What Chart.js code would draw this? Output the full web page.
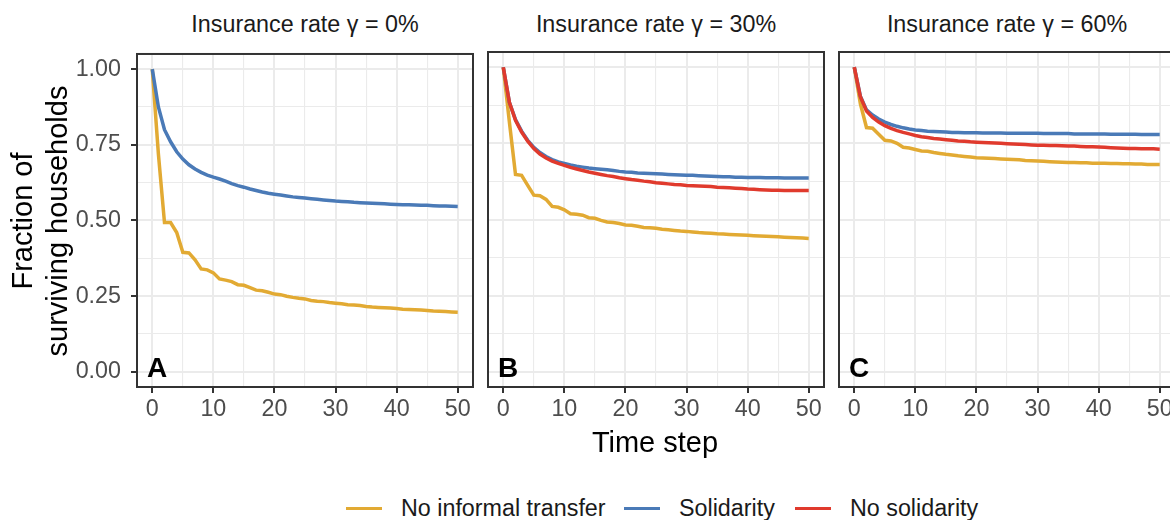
<!DOCTYPE html>
<html lang="en">
<head>
<meta charset="UTF-8">
<title>Fraction of surviving households</title>
<script src="https://cdn.jsdelivr.net/npm/chart.js"></script>
<style>
  body { margin: 0; background: #fff; font-family: "Liberation Sans", Arial, Helvetica, sans-serif; }
  #wrap { position: relative; width: 1170px; height: 520px; overflow: hidden; }
  .panel { position: absolute; top: 30px; height: 400px; }
  .strip { position: absolute; top: 10px; width: 336px; text-align: center; font-size: 23.3px; line-height: 28px; color: #1a1a1a; white-space: nowrap; }
  #ytitle { position: absolute; left: -160px; top: 186px; width: 400px; height: 70px; transform: rotate(-90deg); text-align: center; font-size: 29px; line-height: 35px; color: #000; white-space: nowrap; }
  #xtitle { position: absolute; left: 455px; top: 425px; width: 400px; text-align: center; font-size: 29px; line-height: 35px; color: #000; }
  .key { position: absolute; top: 507px; width: 36px; height: 3px; }
  .ktext { position: absolute; top: 494px; font-size: 23.3px; line-height: 28px; color: #1a1a1a; white-space: nowrap; }
</style>
</head>
<body>
<div id="wrap">
  <div class="strip" style="left:137px">Insurance rate γ = 0%</div>
  <div class="strip" style="left:488px">Insurance rate γ = 30%</div>
  <div class="strip" style="left:839px">Insurance rate γ = 60%</div>

  <canvas id="panelA" class="panel" style="left:0px" width="480" height="400"></canvas>
  <canvas id="panelB" class="panel" style="left:480px" width="352" height="400"></canvas>
  <canvas id="panelC" class="panel" style="left:831px" width="352" height="400"></canvas>

  <div id="ytitle">Fraction of<br>surviving households</div>
  <div id="xtitle">Time step</div>

  <div class="key" style="left:346px;background:#E2AA33"></div>
  <div class="ktext" style="left:401px">No informal transfer</div>
  <div class="key" style="left:624px;background:#4A7AB7"></div>
  <div class="ktext" style="left:679px">Solidarity</div>
  <div class="key" style="left:795px;background:#E03A2D"></div>
  <div class="ktext" style="left:850px">No solidarity</div>
</div>

<script>
// time steps 0..50
const timeSteps = [0, 1, 2, 3, 4, 5, 6, 7, 8, 9, 10, 11, 12, 13, 14, 15, 16, 17, 18, 19, 20,
  21, 22, 23, 24, 25, 26, 27, 28, 29, 30, 31, 32, 33, 34, 35, 36, 37, 38, 39, 40,
  41, 42, 43, 44, 45, 46, 47, 48, 49, 50];

// gamma = 0%
const noTransferA = [1.0, 0.72, 0.493, 0.493, 0.46, 0.395, 0.393, 0.37, 0.34, 0.337, 0.327,
  0.307, 0.303, 0.298, 0.288, 0.286, 0.278, 0.27, 0.268, 0.263, 0.257,
  0.255, 0.25, 0.246, 0.243, 0.241, 0.236, 0.233, 0.232, 0.229, 0.227,
  0.225, 0.222, 0.221, 0.219, 0.216, 0.214, 0.213, 0.212, 0.211, 0.209,
  0.207, 0.206, 0.205, 0.204, 0.203, 0.201, 0.2, 0.199, 0.198, 0.197];
const solidarityA = [1.0, 0.875, 0.80, 0.76, 0.727, 0.703, 0.684, 0.67, 0.659, 0.65, 0.643,
  0.637, 0.63, 0.622, 0.615, 0.61, 0.604, 0.599, 0.594, 0.59, 0.587,
  0.584, 0.581, 0.578, 0.576, 0.574, 0.572, 0.57, 0.568, 0.566, 0.564,
  0.563, 0.562, 0.56, 0.559, 0.558, 0.557, 0.556, 0.555, 0.554, 0.553,
  0.552, 0.552, 0.551, 0.55, 0.55, 0.549, 0.548, 0.548, 0.547, 0.546];

// gamma = 30%
const noTransferB = [1.0, 0.82, 0.648, 0.645, 0.612, 0.58, 0.578, 0.566, 0.543, 0.54, 0.532,
  0.519, 0.517, 0.514, 0.506, 0.504, 0.497, 0.492, 0.49, 0.487, 0.482,
  0.481, 0.478, 0.474, 0.473, 0.471, 0.468, 0.466, 0.464, 0.462, 0.461,
  0.459, 0.457, 0.456, 0.455, 0.453, 0.452, 0.451, 0.45, 0.449, 0.448,
  0.447, 0.446, 0.445, 0.444, 0.443, 0.442, 0.441, 0.44, 0.439, 0.438];
const solidarityB = [1.0, 0.885, 0.828, 0.79, 0.76, 0.737, 0.72, 0.707, 0.697, 0.689, 0.684,
  0.679, 0.675, 0.672, 0.669, 0.667, 0.665, 0.663, 0.661, 0.658, 0.656,
  0.655, 0.653, 0.652, 0.651, 0.65, 0.649, 0.648, 0.647, 0.646, 0.645,
  0.645, 0.644, 0.643, 0.642, 0.641, 0.64, 0.64, 0.639, 0.639, 0.638,
  0.638, 0.638, 0.637, 0.637, 0.637, 0.636, 0.636, 0.636, 0.636, 0.636];
const noSolidarityB = [1.0, 0.885, 0.826, 0.787, 0.757, 0.733, 0.715, 0.702, 0.692, 0.684, 0.678,
  0.671, 0.666, 0.661, 0.656, 0.652, 0.648, 0.644, 0.641, 0.637, 0.634,
  0.631, 0.629, 0.626, 0.624, 0.621, 0.619, 0.617, 0.615, 0.614, 0.612,
  0.611, 0.61, 0.609, 0.608, 0.606, 0.605, 0.604, 0.603, 0.602, 0.6,
  0.599, 0.598, 0.597, 0.596, 0.596, 0.595, 0.595, 0.595, 0.595, 0.595];

// gamma = 60%
const noTransferC = [1.0, 0.88, 0.802, 0.8, 0.78, 0.76, 0.758, 0.75, 0.737, 0.735, 0.73,
  0.725, 0.724, 0.72, 0.717, 0.714, 0.712, 0.709, 0.707, 0.705, 0.703,
  0.702, 0.701, 0.7, 0.699, 0.698, 0.697, 0.696, 0.694, 0.693, 0.692,
  0.691, 0.69, 0.689, 0.688, 0.687, 0.687, 0.686, 0.686, 0.685, 0.685,
  0.685, 0.684, 0.684, 0.683, 0.683, 0.682, 0.682, 0.681, 0.681, 0.681];
const solidarityC = [1.0, 0.905, 0.86, 0.843, 0.83, 0.82, 0.812, 0.806, 0.801, 0.797, 0.794,
  0.792, 0.79, 0.789, 0.788, 0.787, 0.786, 0.786, 0.785, 0.785, 0.785,
  0.784, 0.784, 0.784, 0.784, 0.783, 0.783, 0.783, 0.783, 0.783, 0.783,
  0.782, 0.782, 0.782, 0.782, 0.782, 0.781, 0.781, 0.781, 0.781, 0.781,
  0.781, 0.78, 0.78, 0.78, 0.78, 0.78, 0.779, 0.779, 0.779, 0.779];
const noSolidarityC = [1.0, 0.903, 0.856, 0.835, 0.82, 0.808, 0.799, 0.792, 0.786, 0.781, 0.776,
  0.772, 0.769, 0.766, 0.764, 0.762, 0.76, 0.758, 0.757, 0.755, 0.754,
  0.753, 0.752, 0.751, 0.75, 0.749, 0.748, 0.747, 0.746, 0.745, 0.744,
  0.744, 0.743, 0.743, 0.742, 0.741, 0.741, 0.74, 0.739, 0.739, 0.738,
  0.737, 0.736, 0.735, 0.734, 0.733, 0.733, 0.732, 0.732, 0.732, 0.731];

// labelled ticks and all grid positions
const xTicks = [0, 10, 20, 30, 40, 50];
const xGrid = [0, 5, 10, 15, 20, 25, 30, 35, 40, 45, 50];
const yTicks = [0, 0.25, 0.5, 0.75, 1];
const yGrid = [0, 0.125, 0.25, 0.375, 0.5, 0.625, 0.75, 0.875, 1];

const FONT = '"Liberation Sans", Arial, Helvetica, sans-serif';
const YELLOW = '#E2AA33', BLUE = '#4A7AB7', RED = '#E03A2D';

function toPoints(values) {
  return values.map((v, i) => ({ x: timeSteps[i], y: v }));
}

function isMajorY(v) {
  return yTicks.some(t => Math.abs(t - v) < 1e-6);
}

// panel border + panel letter
const panelFrame = {
  id: 'panelFrame',
  afterDatasetsDraw(chart, args, opts) {
    const { ctx, chartArea: a } = chart;
    ctx.save();
    ctx.font = 'bold 28px ' + FONT;
    ctx.fillStyle = '#000';
    ctx.textBaseline = 'alphabetic';
    ctx.fillText(opts.letter, a.left + 10, a.bottom - 10);
    ctx.strokeStyle = '#333333';
    ctx.lineWidth = 2;
    ctx.strokeRect(a.left, a.top, a.right - a.left, a.bottom - a.top);
    ctx.restore();
  }
};

function makePanel(id, series, letter, showY) {
  const datasets = series.map(s => ({
    data: toPoints(s.values),
    borderColor: s.color,
    borderWidth: 3.5,
    pointRadius: 0,
    fill: false,
    tension: 0,
    order: s.order
  }));

  new Chart(document.getElementById(id), {
    type: 'line',
    data: { datasets: datasets },
    plugins: [panelFrame],
    options: {
      responsive: false,
      maintainAspectRatio: false,
      animation: false,
      layout: { padding: { top: 22, right: showY ? 7 : 8, bottom: 0, left: 0 } },
      plugins: {
        legend: { display: false },
        tooltip: { enabled: false },
        panelFrame: { letter: letter }
      },
      scales: {
        x: {
          type: 'linear',
          min: -2.5,
          max: 52.5,
          border: { display: false },
          afterBuildTicks: s => { s.ticks = xGrid.map(v => ({ value: v })); },
          grid: {
            color: '#ebebeb',
            lineWidth: c => (c.tick && xTicks.includes(c.tick.value)) ? 2 : 1.1,
            tickColor: c => (c.tick && xTicks.includes(c.tick.value)) ? '#333333' : 'rgba(0,0,0,0)',
            tickWidth: 2,
            tickLength: 6
          },
          ticks: {
            autoSkip: false,
            maxRotation: 0,
            padding: 3,
            color: '#4d4d4d',
            font: { family: FONT, size: 23.3 },
            callback: v => xTicks.includes(v) ? String(v) : ''
          },
          afterFit: s => { s.height = 43; }
        },
        y: {
          type: 'linear',
          min: -0.05,
          max: 1.05,
          border: { display: false },
          afterBuildTicks: s => { s.ticks = yGrid.map(v => ({ value: v })); },
          grid: {
            color: '#ebebeb',
            lineWidth: c => (c.tick && isMajorY(c.tick.value)) ? 2 : 1.1,
            tickColor: c => (c.tick && isMajorY(c.tick.value)) ? '#333333' : 'rgba(0,0,0,0)',
            tickWidth: 2,
            tickLength: 6,
            drawTicks: showY
          },
          ticks: {
            display: showY,
            autoSkip: false,
            padding: 10,
            color: '#4d4d4d',
            font: { family: FONT, size: 23.3 },
            callback: v => isMajorY(v) ? v.toFixed(2) : ''
          },
          afterFit: s => { s.width = showY ? 137 : 8; }
        }
      }
    }
  });
}

makePanel('panelA', [
  { values: noTransferA, color: YELLOW, order: 2 },
  { values: solidarityA, color: BLUE, order: 1 }
], 'A', true);

makePanel('panelB', [
  { values: noTransferB, color: YELLOW, order: 2 },
  { values: solidarityB, color: BLUE, order: 1 },
  { values: noSolidarityB, color: RED, order: 0 }
], 'B', false);

makePanel('panelC', [
  { values: noTransferC, color: YELLOW, order: 2 },
  { values: solidarityC, color: BLUE, order: 1 },
  { values: noSolidarityC, color: RED, order: 0 }
], 'C', false);
</script>
</body>
</html>
